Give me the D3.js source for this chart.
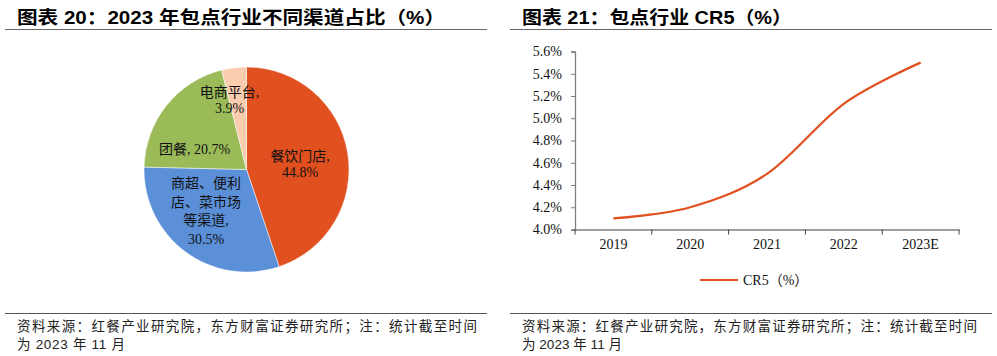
<!DOCTYPE html>
<html><head><meta charset="utf-8">
<script src="https://cdn.jsdelivr.net/npm/d3@7"></script>
<style>
html,body{margin:0;padding:0;background:#fff;}
svg{display:block;}
</style></head>
<body>
<svg id="c" width="997" height="356"></svg>
<script>
// ---------- data ----------
const pieCategories = ["餐饮门店", "商超、便利店、菜市场等渠道", "团餐", "电商平台"];
const pieValues = [44.8, 30.5, 20.7, 3.9];
const pieLabelLines = [["餐饮门店,", "44.8%"], ["商超、便利", "店、菜市场", "等渠道,", "30.5%"], ["团餐, 20.7%"], ["电商平台,", "3.9%"]];
const pieColors = ["#E1501F", "#5B8FD8", "#9BBB59", "#F9CDAD"];

const years = ["2019", "2020", "2021", "2022", "2023E"];
const cr5 = [4.10, 4.20, 4.50, 5.13, 5.50];
const yTicks = [4.0, 4.2, 4.4, 4.6, 4.8, 5.0, 5.2, 5.4, 5.6];
const seriesName = "CR5（%）";

const titleLeft = "图表 20：2023 年包点行业不同渠道占比（%）";
const titleRight = "图表 21：包点行业 CR5（%）";
const noteLine1 = "资料来源：红餐产业研究院，东方财富证券研究所；注：统计截至时间";
const noteLine2 = "为 2023 年 11 月";

// ---------- drawing ----------
const svg = d3.select("#c");
const sans = "'Liberation Sans', Arial, 'Noto Sans CJK SC', sans-serif";
const serif = "'Liberation Serif', 'Times New Roman', 'Noto Sans CJK SC', serif";

function panelFrame(x0, x1, title, titleW, noteW1, noteW2) {
  svg.append("text").attr("x", x0 + 12).attr("y", 24)
    .attr("font-family", sans).attr("font-weight", "bold").attr("font-size", 18)
    .attr("fill", "#000").attr("textLength", titleW).attr("lengthAdjust", "spacingAndGlyphs")
    .text(title);
  svg.append("line").attr("x1", x0).attr("x2", x1).attr("y1", 29.5).attr("y2", 29.5)
    .attr("stroke", "#666").attr("stroke-width", 1);
  svg.append("line").attr("x1", x0).attr("x2", x1).attr("y1", 313.5).attr("y2", 313.5)
    .attr("stroke", "#555").attr("stroke-width", 1);
  svg.append("text").attr("x", x0 + 12).attr("y", 331)
    .attr("font-family", sans).attr("font-size", 13.5).attr("fill", "#222")
    .attr("textLength", noteW1).attr("lengthAdjust", "spacing").text(noteLine1);
  svg.append("text").attr("x", x0 + 12).attr("y", 349)
    .attr("font-family", sans).attr("font-size", 13.5).attr("fill", "#222")
    .attr("textLength", noteW2).attr("lengthAdjust", "spacing").text(noteLine2);
}
panelFrame(5, 487, titleLeft, 428, 460, 108);
panelFrame(510, 992, titleRight, 270, 455, 100);

// ---------- pie ----------
const cx = 246.5, cy = 169.5, R = 102.5;
const pie = d3.pie().sort(null).value(d => d)(pieValues);
const arc = d3.arc().innerRadius(0).outerRadius(R);
const gPie = svg.append("g").attr("transform", `translate(${cx},${cy})`);
gPie.selectAll("path").data(pie).join("path")
  .attr("d", arc).attr("fill", (d, i) => pieColors[i])
  .attr("stroke", "#fff").attr("stroke-width", 0.5);

const labelArc = d3.arc().innerRadius(R * 0.55).outerRadius(R * 0.55);
const nudges = [[-2, 4], [-7, -4], [-8, 15], [-10, -14]];
const lineH = [16, 18.5, 18, 16];
pie.forEach((d, i) => {
  const [lx, ly] = labelArc.centroid(d);
  const lines = pieLabelLines[i];
  const h = lineH[i];
  const top = ly + nudges[i][1] - (lines.length - 1) * h / 2;
  const t = gPie.append("text").attr("text-anchor", "middle")
    .attr("font-family", serif).attr("font-size", 14).attr("fill", "#111");
  lines.forEach((s, k) => {
    t.append("tspan").attr("x", lx + nudges[i][0]).attr("y", top + k * h + 5).text(s);
  });
});

// ---------- line chart ----------
const x = d3.scaleBand().domain(years).range([575, 959]).paddingInner(0).paddingOuter(0);
const y = d3.scaleLinear().domain([4.0, 5.6]).range([229.5, 51.5]);

const yAxis = d3.axisLeft(y).tickValues(yTicks).tickSize(4).tickPadding(9)
  .tickFormat(d => d.toFixed(1) + "%");
const gy = svg.append("g").attr("transform", "translate(575,0)").call(yAxis);
gy.select(".domain").attr("stroke", "#7f7f7f").attr("stroke-width", 1.3);
gy.selectAll(".tick line").attr("stroke", "#7f7f7f");
gy.selectAll(".tick text").attr("font-family", serif).attr("font-size", 14).attr("fill", "#111");

const xAxis = d3.axisBottom(x).tickSize(0).tickPadding(10);
const gx = svg.append("g").attr("transform", "translate(0,229.5)").call(xAxis);
gx.select(".domain").attr("stroke", "#404040").attr("stroke-width", 1.2);
gx.selectAll(".tick text").attr("font-family", serif).attr("font-size", 14).attr("fill", "#111");
// boundary ticks (between categories)
const bounds = years.map(v => x(v)).concat([x(years[years.length - 1]) + x.bandwidth()]);
gx.selectAll(".bt").data(bounds).join("line").attr("class", "bt")
  .attr("x1", d => d).attr("x2", d => d).attr("y1", 0).attr("y2", 5)
  .attr("stroke", "#404040").attr("stroke-width", 1);

const line = d3.line().x((d, i) => x(years[i]) + x.bandwidth() / 2).y(d => y(d))
  .curve(d3.curveCatmullRom.alpha(0));
svg.append("path").datum(cr5).attr("d", line)
  .attr("fill", "none").attr("stroke", "#E1501F").attr("stroke-width", 2.2);

// legend
svg.append("line").attr("x1", 700).attr("x2", 738).attr("y1", 280).attr("y2", 280)
  .attr("stroke", "#E1501F").attr("stroke-width", 2.2);
svg.append("text").attr("x", 743).attr("y", 285).attr("font-family", serif)
  .attr("font-size", 14).attr("fill", "#111").text(seriesName);
</script>
</body></html>
